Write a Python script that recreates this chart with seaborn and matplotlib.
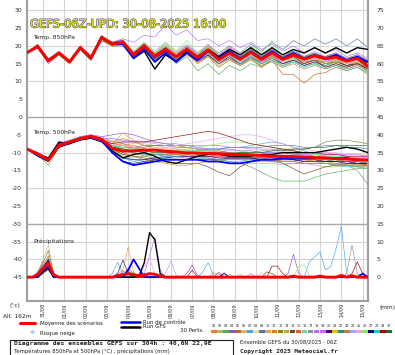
import numpy as np
import pandas as pd
import matplotlib
matplotlib.use('Agg')
import matplotlib.pyplot as plt
import matplotlib.patheffects as pe
from matplotlib.lines import Line2D
from matplotlib.patches import Rectangle
import seaborn as sns

sns.set_theme(style='white')
plt.rcParams['font.family'] = ['DejaVu Sans']

# ---------------- data ----------------
date_labels = ["31/08", "01/09", "02/09", "03/09", "04/09", "05/09", "06/09", "07/09",
               "08/09", "09/09", "10/09", "11/09", "12/09", "13/09", "14/09", "15/09"]
member_names = ["%02d" % k for k in range(1, 31)]
member_colors = ['#f08030', '#a0c060', '#50b050', '#9050c0', '#c06818', '#d0b888', '#40a8f0',
                 '#f0dca8', '#5878a8', '#f0a040', '#e07838', '#808030', '#c0a060', '#704820',
                 '#f05820', '#70d8a0', '#909090', '#b070ff', '#e060e0', '#400080', '#e8c000',
                 '#209080', '#c08040', '#a8a0ff', '#f0a0e0', '#80f060', '#000090', '#30c0c8',
                 '#a00000', '#207020']

# 850 hPa temperature (°C), 12-hourly from 30/08 06h
t850_mean = [18.1, 19.8, 15.8, 18.0, 15.5, 19.5, 16.7, 22.3, 20.5, 21.0, 17.5, 19.8, 17.2, 19.0, 17.0,
             19.0, 16.8, 18.8, 16.1, 18.0, 16.2, 18.2, 16.2, 18.0, 16.2, 17.5, 16.3, 17.2, 16.5, 16.8,
             15.7, 16.5, 14.2]
t850_control = [18, 20, 16, 18, 15.5, 19.5, 16.5, 22.5, 20.5, 20.5, 16.5, 19, 15.5, 18, 15.5, 18, 16,
                18.5, 16.5, 18.5, 16.5, 18.5, 16.5, 18.5, 16.5, 18, 16.5, 17.5, 16.5, 17.5, 16, 17, 15.5]
t850_gfs = [18, 20, 16, 18, 15.5, 19.5, 16.5, 22.5, 20.5, 21, 16.5, 18.5, 13.5, 17.5, 15.5, 18.5, 17,
            19, 17, 19, 17.5, 19.5, 17.5, 19.5, 17.5, 19, 18, 19.5, 18, 19.5, 18, 19.5, 19]
t850_members = [
    [18, 20.5, 16, 18.5, 16, 20, 17, 23, 21, 21.5, 18, 20.5, 17.5, 19.5, 18, 20, 18, 20, 17, 19, 17, 19.5, 17, 19, 17.5, 18.5, 17, 18, 17, 18, 16, 17, 15],
    [18, 19.5, 15.5, 17.5, 15, 19, 16, 22, 20, 20.5, 17, 19, 16, 18, 16, 18, 15.5, 17.5, 14.5, 16.5, 14.5, 16.5, 14.5, 16, 14, 15.5, 14, 15, 14.5, 15, 14, 15, 13],
    [18, 20, 16, 18, 15.5, 19.5, 16.5, 22, 20, 20, 17, 19.5, 16.5, 18.5, 15, 17, 13, 15, 12, 14.5, 13, 15, 14, 16, 14.5, 16, 15, 16, 15.5, 16.5, 15, 16, 14],
    [18, 19.5, 15, 17.5, 15, 19, 16, 22, 20.5, 21, 18, 20.5, 18, 20, 17.5, 19.5, 17, 19, 16.5, 18.5, 16.5, 18.5, 16.5, 18.5, 17, 18, 16, 17, 15, 16, 14.5, 15.5, 13.5],
    [18.5, 20, 16, 18, 15.5, 19.5, 16.5, 22.5, 21, 21.5, 18, 20, 17, 19, 16.5, 18, 15, 17, 14, 16, 14.5, 16.5, 14, 16, 12, 12, 9.5, 12, 12.5, 14, 13, 14, 12],
    [18, 20, 16.5, 18.5, 16, 20, 17, 23, 21, 22, 18.5, 21, 18, 20, 18, 20, 17.5, 19.5, 17, 19, 17, 19, 17, 19, 17, 18.5, 17, 18, 17, 18, 16.5, 17.5, 15.5],
    [18, 19.5, 15.5, 17.5, 15, 19, 16.5, 22, 20, 20, 16.5, 19, 16, 18, 16, 18, 16, 18.5, 16, 18, 16, 18, 15.5, 17.5, 15, 16.5, 14.5, 15.5, 14, 15, 13.5, 14.5, 13],
    [18, 20, 16, 18, 15.5, 19.5, 16.5, 22, 20.5, 21, 17.5, 20, 17, 19.5, 17.5, 19.5, 17, 19, 16.5, 18.5, 16, 18, 16, 18, 16.5, 17.5, 16.5, 17.5, 16.5, 17.5, 16, 17, 15],
    [18, 20, 16, 18, 15.5, 19.5, 16.5, 22.5, 20.5, 21, 17.5, 20, 17, 19.5, 17.5, 19.5, 17.5, 20, 18, 20, 18, 20.5, 18.5, 21, 19, 21.5, 20, 22, 20.5, 22, 20, 22, 19.5],
    [18, 20, 15.5, 17.5, 15, 19, 16, 22, 20, 20.5, 17, 19.5, 16.5, 18.5, 16.5, 18.5, 16, 18, 15.5, 17.5, 15.5, 17, 15.5, 17, 15.5, 16.5, 15.5, 16, 15, 15.5, 14.5, 15, 13.5],
    [18, 20.5, 16, 18, 15.5, 20, 17, 22.5, 21, 21.5, 17.5, 20, 17.5, 19.5, 17, 19, 16.5, 18.5, 16, 18, 16.5, 18.5, 16.5, 18.5, 16.5, 17.5, 16.5, 17, 16, 16.5, 15, 16, 14],
    [18, 19.5, 15.5, 18, 15.5, 19.5, 16.5, 22, 20, 20.5, 17, 19.5, 17, 19, 17, 19.5, 17, 19.5, 17, 19.5, 17, 19, 16.5, 18.5, 16, 17, 15.5, 16, 15, 15.5, 14.5, 15, 13.5],
    [18, 20, 16, 18.5, 16, 19.5, 17, 22.5, 21, 21, 18, 20.5, 18, 20.5, 18, 20, 17.5, 19.5, 17.5, 19.5, 17.5, 19.5, 17, 19, 17, 18, 17, 17.5, 17, 17.5, 16.5, 17, 15.5],
    [18, 20, 16, 18, 15.5, 19, 16, 21.5, 20, 20.5, 17, 19, 16, 18, 16, 18, 16, 17.5, 15, 16.5, 15, 16.5, 15.5, 17, 16, 17.5, 16.5, 17.5, 17, 18, 16.5, 17.5, 16],
    [18, 20, 16, 18, 15.5, 19.5, 17, 22.5, 21, 21, 17.5, 20, 17, 19.5, 17, 19, 16.5, 18.5, 16, 18, 16, 17.5, 15.5, 17, 15, 16, 15, 16, 15.5, 16.5, 15.5, 16.5, 15],
    [18, 20, 16, 18, 15.5, 19.5, 16.5, 22, 20.5, 20.5, 17.5, 20.5, 18, 20, 17.5, 19, 16.5, 18, 15.5, 17, 15, 16.5, 15, 16, 15, 15.5, 14.5, 15, 14, 14.5, 14, 15, 13.5],
    [18, 20, 16, 18, 15.5, 19.5, 16.5, 22.5, 20.5, 21, 17.5, 19.5, 17, 19, 17, 18.5, 16.5, 18, 16, 17.5, 16, 17.5, 16, 17.5, 16, 17, 15.5, 16.5, 15, 16, 14.5, 15.5, 12.5],
    [18, 20, 16, 18, 15.5, 19.5, 17, 22.5, 21, 22, 21, 23, 22.5, 26, 23, 24.5, 21.5, 22, 20, 21.5, 19.5, 21, 19, 20.5, 18.5, 20, 18, 19.5, 18, 19, 17, 18, 16.5],
    [18, 20, 16, 18, 15.5, 19.5, 16.5, 22, 20.5, 21, 18, 20.5, 17.5, 19.5, 17.5, 20, 18, 20.5, 17.5, 19.5, 17.5, 19.5, 17.5, 19, 17, 18, 16.5, 17.5, 16.5, 17, 15.5, 16.5, 15],
    [18, 20, 16, 18, 15.5, 19.5, 16.5, 22.5, 20.5, 21, 17, 19.5, 16.5, 18.5, 16, 18, 15.5, 17.5, 15, 17, 15, 17, 15, 16.5, 15, 16, 14.5, 15.5, 14.5, 15.5, 14.5, 15, 13.5],
    [18, 20, 16, 18, 15.5, 19.5, 16.5, 22, 20, 20.5, 17, 19.5, 16.5, 18, 16.5, 18.5, 16, 18, 16, 18, 16.5, 18.5, 16.5, 18, 16, 17, 16, 16.5, 15.5, 16, 15, 15.5, 14],
    [18, 20, 16, 18, 15.5, 19.5, 16.5, 22, 20.5, 21, 17.5, 20, 17, 19, 16.5, 18.5, 16.5, 18.5, 16.5, 18.5, 17, 19, 17, 19, 17, 18.5, 17, 18, 16.5, 17.5, 16, 17, 15],
    [18, 20, 16, 18, 15.5, 19.5, 16.5, 22, 20.5, 20.5, 17, 19, 16.5, 18, 16, 17.5, 15.5, 17, 15, 16.5, 14.5, 16, 14.5, 15.5, 14, 15, 13.5, 14.5, 13.5, 14.5, 13.5, 14.5, 13],
    [18, 20, 16, 18, 15.5, 19.5, 17, 22.5, 21, 21.5, 18, 21, 18.5, 21, 18.5, 20.5, 18, 20, 17.5, 19.5, 17.5, 19.5, 17.5, 19.5, 17.5, 19, 17, 18.5, 17, 18, 16.5, 17.5, 16],
    [18, 20, 16, 18, 15.5, 19.5, 16.5, 22, 20.5, 21, 17.5, 20, 17, 19, 16.5, 18.5, 16, 18, 15.5, 17.5, 15.5, 17.5, 15.5, 17.5, 15.5, 17, 15.5, 16.5, 15.5, 16.5, 15, 16, 14.5],
    [18, 20, 16, 18, 15.5, 19.5, 16.5, 22.5, 21, 21.5, 18, 21, 18, 21, 18.5, 21.5, 18, 20, 17, 19, 16.5, 20, 18, 21.5, 16, 16.5, 15, 16, 14.5, 15.5, 14, 15, 13],
    [18, 20, 16, 18, 15.5, 19.5, 16.5, 22.5, 20.5, 21, 17, 19.5, 16.5, 18.5, 16.5, 18.5, 16.5, 18.5, 16, 18, 16, 18, 16, 18, 16, 17.5, 16, 17, 16, 17, 15.5, 16.5, 15],
    [18, 20, 16, 18, 15.5, 19.5, 16.5, 22, 20.5, 21, 17.5, 20, 17, 19, 16.5, 18.5, 16.5, 18, 15.5, 17.5, 15, 17, 15, 16.5, 14.5, 15.5, 14, 15, 13.5, 14.5, 13, 14, 12.5],
    [18, 20, 16, 18, 15.5, 19.5, 16.5, 22.5, 21, 21.5, 18, 20.5, 17.5, 19.5, 17, 19, 16.5, 18.5, 16, 18, 16, 18, 16, 18, 16, 17, 15, 16, 14, 15, 14, 15, 13.5],
    [18, 20, 16, 18, 15.5, 19.5, 16.5, 22, 20.5, 21, 17.5, 20, 17, 19.5, 17, 19.5, 17, 19, 16.5, 18.5, 16.5, 18.5, 16.5, 18.5, 16.5, 18, 16.5, 17.5, 16.5, 17.5, 16, 17, 15],
]

# 500 hPa temperature (°C), 12-hourly
t500_mean = [-9.0, -10.3, -12.1, -7.9, -7.0, -6.0, -5.4, -6.2, -8.8, -9.6, -9.5, -9.3, -9.3, -9.6, -9.8,
             -10.1, -10.1, -10.2, -10.3, -10.4, -10.5, -10.6, -10.8, -11.0, -11.0, -11.1, -11.2, -11.4,
             -11.5, -11.7, -11.8, -12.0, -12.1]
t500_control = [-9, -10.5, -12, -7.5, -7, -6, -5.5, -6.5, -10, -12.5, -13.5, -13, -12.5, -12, -12, -12, -12,
                -12.5, -12.5, -13, -13, -12.5, -12, -12, -11.5, -11.5, -11.5, -11.5, -11.5, -11.5, -11.5, -12, -12]
t500_gfs = [-9, -10.5, -11.5, -7, -7.5, -6, -5.5, -6.5, -9.5, -11.5, -10.5, -10, -11, -12.5, -13, -12, -11,
            -10.5, -10.5, -11, -11, -11, -10.5, -10.5, -10, -10, -10, -10, -9.5, -9, -8.5, -9, -10]
t500_members = [
    [-9, -10, -11.5, -7.5, -7, -6, -5.5, -6, -7, -6, -7, -8, -8.5, -9, -9, -9.5, -10, -10, -9.5, -10, -10.5, -11, -11, -11.5, -12, -12, -12.5, -12, -12.5, -13, -13, -13.5, -13.5],
    [-9, -10.5, -12, -8, -7, -6, -5.5, -6.5, -9, -11, -12, -12.5, -12, -11.5, -11, -11, -11.5, -12, -12, -12.5, -12.5, -13, -13, -13, -13.5, -13, -13, -13.5, -14, -14, -13.5, -14, -14],
    [-9, -10.5, -13.5, -8.5, -7, -6, -5.5, -6.5, -10, -12.5, -13.5, -13, -12, -11.5, -11.5, -11, -11, -11.5, -12, -12.5, -13, -14, -15.5, -17, -18, -18, -18, -17, -16, -15.5, -15, -14.5, -14.5],
    [-9, -10, -11.5, -7.5, -6.5, -5.5, -5, -5.5, -5, -4.5, -5, -6, -7, -7.5, -8, -8, -8.5, -9, -9, -9, -9.5, -9.5, -10, -10, -10, -10.5, -10.5, -11, -11, -11.5, -11, -11.5, -11.5],
    [-9, -11, -12.5, -8.5, -7.5, -6.5, -6, -7, -8, -9, -10, -11, -11.5, -11, -10.5, -10, -10, -10.5, -11, -11, -11.5, -11.5, -12, -12.5, -12, -12, -11.5, -11.5, -12, -12, -12.5, -12.5, -13],
    [-9, -10, -12, -8, -7, -6, -5.5, -6, -6.5, -7, -7.5, -7.5, -8, -8.5, -9, -9, -9.5, -9.5, -10, -10, -10, -10.5, -10.5, -10.5, -11, -11, -11, -11.5, -11, -11, -11.5, -11.5, -12],
    [-9, -10.5, -12, -8, -7, -6, -5.5, -6.5, -9.5, -11.5, -12.5, -12, -11.5, -11, -10, -9.5, -9.5, -9, -9, -8.5, -8.5, -8, -7.5, -7, -7.5, -8.5, -9.5, -10.5, -11, -12, -12.5, -13, -13.5],
    [-9, -10.5, -12, -8, -7, -6, -5.5, -6.5, -8.5, -9.5, -10, -10, -9.5, -9.5, -9.5, -10, -10, -10, -10.5, -10.5, -10, -10, -10.5, -10.5, -11, -11, -11, -11.5, -11.5, -12, -12, -12, -12.5],
    [-9, -10.5, -12, -8, -7, -6, -5.5, -6.5, -8, -8.5, -8.5, -8, -8, -8, -8.5, -8.5, -9, -9, -9, -8.5, -8.5, -8.5, -8.5, -8, -8, -8, -8.5, -8.5, -8, -8, -8.5, -8.5, -9],
    [-9, -10.5, -12, -8, -7, -6, -5.5, -6.5, -7.5, -4.5, -6.5, -8, -9, -9.5, -10, -10.5, -10, -10, -10.5, -11, -11, -11, -11.5, -11.5, -11.5, -12, -12, -12.5, -12, -12, -12.5, -12.5, -12.5],
    [-9, -11, -12.5, -8.5, -7.5, -6.5, -6, -7, -9, -10.5, -11, -11, -10.5, -10.5, -10.5, -10.5, -10, -10, -10, -10.5, -11, -11.5, -12, -12, -11.5, -11, -11, -11, -11.5, -11.5, -12, -12, -12.5],
    [-9, -10.5, -12, -8, -7, -6, -5.5, -6.5, -8.5, -9, -9, -8.5, -8, -8, -8, -8.5, -9, -9.5, -9.5, -10, -10, -10, -9.5, -9.5, -9, -9, -9, -8.5, -7, -6.5, -6.5, -7, -7.5],
    [-9, -10.5, -12, -8, -7, -6, -5.5, -6.5, -7, -7.5, -8.5, -9.5, -10, -10, -10.5, -10.5, -11, -11, -11, -11, -11, -11.5, -11.5, -11.5, -12, -12, -12, -12, -12.5, -12.5, -12.5, -13, -13],
    [-9, -10.5, -12, -8, -7, -6, -5.5, -6.5, -9, -10.5, -11, -11.5, -12, -12.5, -13, -13, -13, -14, -15.5, -16.5, -14, -12.5, -12, -12, -13, -14.5, -16, -15, -14, -13.5, -13.5, -13.5, -13.5],
    [-9, -10.5, -12, -8, -7, -6, -5.5, -6.5, -8, -7.5, -8, -9, -9.5, -10, -10.5, -11, -11, -11, -11, -11.5, -11.5, -12, -12, -12, -12.5, -12.5, -13, -13, -13, -13.5, -13, -13, -13.5],
    [-9, -10, -11.5, -7.5, -7, -6, -5.5, -6, -9.5, -11, -11.5, -11, -10.5, -10, -10, -9.5, -9.5, -9.5, -10, -10, -10, -10.5, -10.5, -11, -11, -11, -11.5, -11.5, -11.5, -12, -12, -12.5, -12.5],
    [-9, -10.5, -12, -8, -7, -6, -5.5, -6.5, -8.5, -8, -8.5, -9, -9.5, -9.5, -10, -10, -10, -10.5, -10.5, -11, -11, -11.5, -11.5, -12, -12, -12, -12.5, -12.5, -13, -13, -13.5, -15, -19],
    [-9, -10.5, -12, -8, -7, -6, -5.5, -6, -6, -6.5, -7, -7, -7, -7.5, -7.5, -8, -8, -8, -8, -8.5, -8.5, -9, -9, -9, -9.5, -9.5, -10, -10, -10, -10.5, -10.5, -10.5, -11],
    [-9, -10.5, -12, -8, -7, -6, -5.5, -6.5, -7.5, -8, -9, -10, -10.5, -11, -11, -11, -11.5, -11.5, -11.5, -11.5, -12, -12, -12, -12.5, -12.5, -12.5, -12, -12, -12, -12.5, -12.5, -12.5, -13],
    [-9, -11, -12.5, -8.5, -7.5, -6.5, -6, -7, -10, -12.5, -13, -12.5, -12, -12, -12, -12, -12, -12, -12, -11.5, -11.5, -11.5, -11.5, -11.5, -11.5, -12, -12, -12, -12.5, -12.5, -12.5, -13, -13],
    [-9, -10.5, -12, -8, -7, -6, -5.5, -6.5, -8, -8, -8.5, -9, -9, -9.5, -9.5, -9.5, -10, -10, -10.5, -10.5, -10.5, -11, -11, -11, -11, -11.5, -11.5, -11.5, -12, -12, -12, -12, -12.5],
    [-9, -10.5, -12, -8, -7, -6, -5.5, -6.5, -9, -9.5, -10, -10.5, -10.5, -10.5, -10, -10, -10, -10, -10, -10.5, -10.5, -10.5, -11, -11, -11.5, -11.5, -11.5, -12, -12, -12.5, -12.5, -12.5, -13],
    [-9, -10.5, -12, -8, -7, -6, -5.5, -6.5, -8.5, -10, -11, -12, -12.5, -13, -13.5, -13.5, -13, -12.5, -12, -12, -12, -12, -12, -12, -12.5, -12.5, -13, -13, -13, -13.5, -13.5, -14, -14],
    [-9, -10, -11.5, -7.5, -6.5, -5.5, -5, -5.5, -7, -6.5, -6.5, -7, -7.5, -8, -8.5, -8.5, -9, -9, -9, -9.5, -9.5, -10, -10, -10, -10, -10, -10.5, -10.5, -10.5, -11, -11, -11, -11.5],
    [-9, -10.5, -12, -8, -7, -6, -5.5, -6.5, -7.5, -8, -8.5, -9, -9, -8.5, -8, -7.5, -7, -6.5, -6, -5.5, -5, -5, -5.5, -6.5, -7.5, -8.5, -9, -9.5, -10, -10, -10.5, -10.5, -11],
    [-9, -10.5, -12, -8, -7, -6, -5.5, -6.5, -8, -8.5, -9, -9.5, -9.5, -9.5, -9.5, -9, -8.5, -8, -7.5, -7, -7, -7.5, -8, -8.5, -9, -9.5, -10, -10.5, -11, -11, -11.5, -11.5, -12],
    [-9, -11, -12.5, -8.5, -7.5, -6.5, -6, -7, -9.5, -11.5, -12, -12, -11.5, -11.5, -11, -11, -11, -11, -11.5, -11.5, -11.5, -11.5, -12, -12, -12, -12, -12.5, -12.5, -12.5, -12.5, -13, -13, -13],
    [-9, -10.5, -12, -8, -7, -6, -5.5, -6.5, -8, -9, -9.5, -10, -10.5, -11, -11, -11.5, -11.5, -11.5, -12, -12, -12, -12.5, -12.5, -12.5, -13, -13, -13, -13, -13, -13.5, -14, -14, -14.5],
    [-9, -10.5, -12, -8, -7, -6, -5.5, -6.5, -7.5, -7, -7, -7, -6.5, -6, -5.5, -5, -4.5, -4, -4.5, -5.5, -6.5, -7.5, -8, -8.5, -9, -9.5, -10, -10, -10.5, -10.5, -11, -11, -11],
    [-9, -10.5, -12, -8, -7, -6, -5.5, -6.5, -8.5, -9, -9.5, -9.5, -10, -10, -10, -10, -10.5, -10.5, -10.5, -10.5, -10, -10, -10, -9.5, -9.5, -9, -9, -8.5, -8.5, -8, -8, -8, -8],
]

# precipitation (mm) per 6-hourly step index (steps not listed are 0 mm)
precip_members = [
    {2: 1, 3: 3, 4: 5, 5: 1, 18: 1.5, 19: 2, 35: 1.2, 36: 0.8},
    {2: 0.5, 3: 2, 4: 4, 5: 0.5, 38: 0.8},
    {3: 2, 4: 3, 18: 0.5, 19: 1.2, 20: 0.5},
    {2: 1.5, 3: 4.5, 4: 3, 5: 0.5, 30: 1, 31: 3.4, 32: 0.5, 36: 1.4, 49: 1, 50: 6.5, 51: 1},
    {3: 3, 4: 6, 5: 1, 19: 2.5, 20: 1},
    {2: 1, 3: 5, 4: 9, 5: 1},
    {3: 1.5, 4: 2.5, 16: 1, 17: 4.2, 18: 1, 33: 1.5, 34: 4.1, 35: 0.5,
     53: 4.3, 54: 5.7, 55: 7.1, 56: 2, 57: 3, 58: 8, 59: 14.3, 60: 1},
    {3: 2, 4: 4, 21: 0.8},
    {2: 1, 3: 3.5, 4: 2},
    {3: 2.5, 4: 5, 5: 0.5, 18: 2, 19: 8.5, 20: 1.5},
    {3: 1, 4: 3, 22: 1},
    {2: 1, 3: 4, 4: 7.5, 5: 1},
    {3: 3, 4: 6, 17: 1, 18: 2},
    {3: 1.5, 4: 3.5, 45: 1.5, 46: 1},
    {3: 2, 4: 4.5, 20: 1},
    {3: 1, 4: 2.5, 20: 1.5, 40: 0.8},
    {3: 2, 4: 3, 60: 1, 61: 9, 62: 1},
    {3: 1.5, 4: 3.5, 22: 1, 23: 6, 24: 11.3, 25: 2},
    {3: 2.5, 4: 4, 42: 1},
    {2: 1, 3: 3, 4: 4.5, 17: 1, 18: 4.8, 19: 1, 37: 1.2},
    {3: 1.5, 4: 3},
    {3: 2, 4: 5, 18: 1, 19: 1.5},
    {3: 1, 4: 2},
    {3: 2, 4: 4, 26: 1, 27: 4.6, 28: 0.5},
    {3: 2, 4: 3.5, 22: 3, 23: 5.3, 24: 1, 44: 1.2},
    {3: 1, 4: 3, 51: 3, 52: 3.4, 53: 0.5},
    {3: 2.5, 4: 5, 37: 1},
    {3: 1.5, 4: 3.5, 19: 1.5, 20: 1},
    {3: 2, 4: 3, 31: 2, 46: 3.1, 47: 3.1, 48: 1, 61: 1, 62: 4.3, 63: 1},
    {3: 1, 4: 2.5, 19: 1},
]
precip_control = {3: 2, 4: 3, 19: 2, 20: 5, 21: 2.5, 63: 1}
precip_gfs = {3: 1.5, 4: 2.5, 21: 0.3, 22: 4, 23: 12.5, 24: 10.5, 25: 1}
precip_mean = {2: 0.7, 3: 2.5, 4: 3.9, 5: 0.6, 17: 0.4, 18: 0.7, 19: 1, 20: 0.7, 21: 0.4, 22: 0.6,
               23: 1, 24: 0.8, 25: 0.3, 50: 0.3, 55: 0.3, 59: 0.5, 61: 0.4}

# ---------------- tables ----------------
t12 = 0.25 + 0.5 * np.arange(33)   # days since 30/08 00h
t6 = 0.25 + 0.25 * np.arange(65)
PRECIP_BASE = -45  # 0 mm sits at -45 on the °C scale


def members_df(series_list, times, offset=0.0):
    rows = []
    for name, vals in zip(member_names, series_list):
        assert len(vals) == len(times), (name, len(vals))
        for t, v in zip(times, vals):
            rows.append((name, t, v + offset))
    return pd.DataFrame(rows, columns=['member', 'day', 'val'])


def single_df(vals, times, offset=0.0):
    assert len(vals) == len(times)
    return pd.DataFrame({'day': times, 'val': np.asarray(vals, float) + offset})


def expand(ev):
    return [ev.get(j, 0.0) for j in range(len(t6))]


df850 = members_df(t850_members, t12)
df500 = members_df(t500_members, t12)
dfpr = members_df([expand(e) for e in precip_members], t6, PRECIP_BASE)
palette = dict(zip(member_names, member_colors))

# ---------------- figure ----------------
W, H = 395, 355
fig = plt.figure(figsize=(W / 100, H / 100), dpi=100)
fig.patch.set_facecolor('white')
ax = fig.add_axes([27 / W, 1 - 301 / H, 341 / W, 301 / H])
ax.set_facecolor('white')

# grid
for d in range(1, 17):
    ax.axvline(d, color='#d4d4d4', lw=0.8, zorder=0)
for yv in [30, 20, 10, -10, -20, -35, -40]:
    ax.axhline(yv, color='#d4d4d4', lw=0.8, zorder=0)
for yv in [0, -30]:
    ax.axhline(yv, color='#a8a8a8', lw=1.0, zorder=0)

for df in (df850, df500, dfpr):
    sns.lineplot(data=df, x='day', y='val', hue='member', palette=palette, estimator=None,
                 lw=0.45, legend=False, ax=ax, zorder=2)

for vals, times, off in [(t850_gfs, t12, 0), (t500_gfs, t12, 0), (expand(precip_gfs), t6, PRECIP_BASE)]:
    sns.lineplot(data=single_df(vals, times, off), x='day', y='val', color='black', lw=1.0,
                 ax=ax, zorder=3)
for vals, times, off in [(t850_control, t12, 0), (t500_control, t12, 0),
                         (expand(precip_control), t6, PRECIP_BASE)]:
    sns.lineplot(data=single_df(vals, times, off), x='day', y='val', color='#0000ff', lw=1.3,
                 ax=ax, zorder=4)
for vals, times, off in [(t850_mean, t12, 0), (t500_mean, t12, 0), (expand(precip_mean), t6, PRECIP_BASE)]:
    sns.lineplot(data=single_df(vals, times, off), x='day', y='val', color='#ff0000', lw=2.1,
                 ax=ax, zorder=5)

ax.set_xlim(0.25, 16.25)
ax.set_ylim(-51.7, 32.9)
ax.set_xlabel('')
ax.set_ylabel('')

tick_font = dict(family='DejaVu Sans', size=4.4, color='#303030')
ax.set_yticks(np.arange(-45, 31, 5))
ax.set_yticklabels([str(v) for v in np.arange(-45, 31, 5)], fontdict=tick_font)
ax.tick_params(axis='y', length=0, pad=3.5)
ax.set_xticks(np.arange(1, 17))
ax.set_xticklabels(date_labels, rotation=90, fontdict=dict(family='DejaVu Sans', size=3.6, color='#303030'))
ax.tick_params(axis='x', length=0, pad=1.5)

sec = ax.secondary_yaxis('right', functions=(lambda v: v + 45, lambda v: v - 45))
sec.set_yticks(np.arange(0, 76, 5))
sec.set_yticklabels([str(v) for v in np.arange(0, 76, 5)], fontdict=tick_font)
sec.tick_params(axis='y', length=0, pad=6)
sec.spines['right'].set_color('#a0a0a0')
sec.spines['right'].set_linewidth(1.5)

for s in ['left', 'right', 'bottom']:
    ax.spines[s].set_color('#a0a0a0')
    ax.spines[s].set_linewidth(1.5)
ax.spines['top'].set_visible(False)


def T(x, y, s, **kw):
    kw.setdefault('va', 'center')
    kw.setdefault('ha', 'left')
    kw.setdefault('color', '#202020')
    fig.text(x / W, 1 - y / H, s, **kw)


def L(x1, x2, y, color, lw):
    fig.add_artist(Line2D([x1 / W, x2 / W], [1 - y / H, 1 - y / H], color=color, lw=lw,
                          transform=fig.transFigure))


# title and panel labels
T(30, 24, 'GEFS-06Z-UPD: 30-08-2025 16:00', fontsize=8.3, color='#f4f400',
  path_effects=[pe.withStroke(linewidth=0.9, foreground='#5a5a5a')], zorder=10)
T(33, 37, 'Temp. 850hPa', fontsize=4.3)
T(33, 133, 'Temp. 500hPa', fontsize=4.3)
T(33, 241, 'Précipitations', fontsize=4.3)

# bottom annotations
T(10, 306, '(°c)', fontsize=4.2)
T(379, 307, '(mm)', fontsize=4.2)
T(3, 316, 'Alt. 162m', fontsize=4.2)
L(20, 35, 323, '#ff0000', 2.2)
T(40, 323, 'Moyenne des scénarios', fontsize=3.9)
L(121, 140, 322, '#0000ff', 1.8)
T(143, 322, 'Run de contrôle', fontsize=3.9)
L(121, 140, 327, 'black', 1.8)
T(143, 327, 'Run GFS', fontsize=3.9)
T(29, 333, '❄', fontsize=4.5, color='#60b0ff')
T(40, 333, 'Risque neige', fontsize=3.9)
T(180, 331, '30 Perts.', fontsize=3.9)
for k, (nm, col) in enumerate(zip(member_names, member_colors)):
    x0 = 211 + 6.05 * k
    T(x0 + 2.7, 326, nm, fontsize=2.4, ha='center')
    fig.add_artist(Rectangle((x0 / W, 1 - 333 / H), 5.6 / W, 3 / H, facecolor=col, edgecolor='none',
                             transform=fig.transFigure))

fig.add_artist(Rectangle((10 / W, 1 - 356 / H), 223 / W, 16 / H, facecolor='none', edgecolor='#202020',
                         lw=0.8, transform=fig.transFigure))
T(14, 344, 'Diagramme des ensembles GEFS sur 304h : 40,6N 22,9E', fontsize=4.6, fontweight='bold',
  family='DejaVu Sans Mono')
T(14, 351, 'Températures 850hPa et 500hPa (°C) , précipitations (mm)', fontsize=3.8)
T(240, 342, 'Ensemble GEFS du 30/08/2025 - 06Z', fontsize=3.8)
T(240, 352, 'Copyright 2025 Meteociel.fr', fontsize=4.3, fontweight='bold', family='DejaVu Sans Mono')

fig.savefig('out.png', dpi=100, facecolor='white')
